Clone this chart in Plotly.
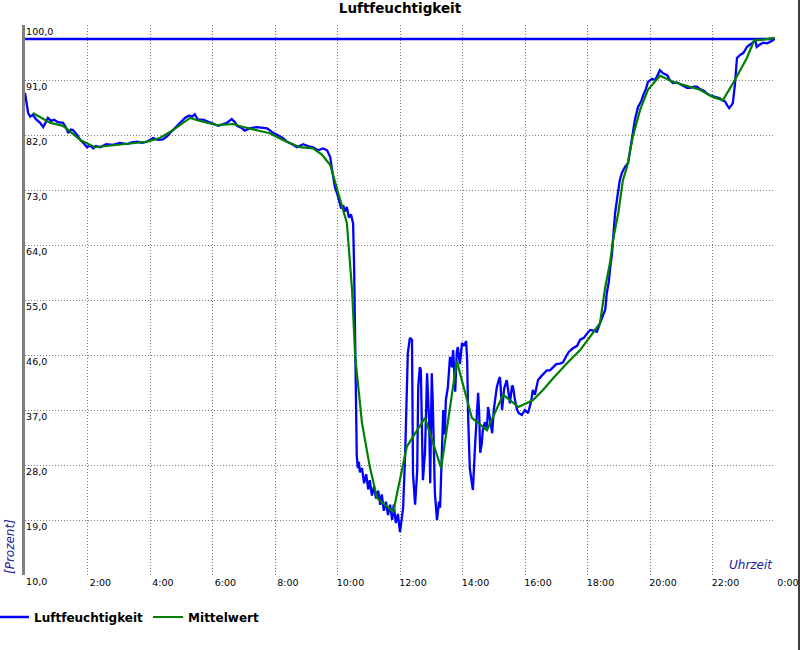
import plotly.graph_objects as go

# ---- data (minutes since midnight, relative humidity %) ----
lf_minutes = [0, 2, 6, 10, 15, 21, 29, 35, 40, 44, 50, 56, 63, 73, 79, 83, 88, 92, 100, 106,
              113, 119, 125, 131, 136, 144, 156, 169, 182, 196, 205, 215, 225, 234, 246, 255,
              265, 273, 278, 286, 292, 300, 307, 315, 321, 326, 332, 342, 351, 361, 371, 378,
              388, 397, 403, 407, 415, 422, 432, 445, 455, 465, 474, 486, 495, 503, 513, 522,
              534, 543, 553, 563, 572, 580, 586, 589, 595, 599, 603, 607, 611, 614, 618, 622,
              626, 630, 632, 634, 636, 637, 639, 641, 643, 647, 651, 655, 659, 662, 666, 670,
              674, 678, 682, 685, 689, 693, 697, 701, 705, 708, 712, 716, 720, 724, 726, 730,
              733, 735, 739, 743, 745, 749, 753, 755, 758, 760, 764, 768, 772, 776, 778, 781,
              783, 787, 791, 795, 797, 801, 803, 806, 808, 812, 816, 820, 822, 826, 829, 831,
              835, 839, 843, 847, 849, 851, 854, 858, 860, 864, 868, 870, 872, 874, 877, 879,
              883, 887, 889, 893, 897, 900, 906, 910, 912, 916, 920, 925, 929, 931, 935, 937,
              941, 945, 948, 954, 960, 966, 972, 975, 979, 985, 991, 996, 1002, 1008, 1014,
              1020, 1027, 1033, 1039, 1044, 1052, 1060, 1066, 1073, 1079, 1085, 1092, 1098,
              1104, 1110, 1114, 1117, 1121, 1123, 1127, 1129, 1133, 1137, 1142, 1146, 1152,
              1158, 1162, 1165, 1171, 1177, 1183, 1187, 1192, 1196, 1204, 1210, 1215, 1219,
              1225, 1233, 1238, 1244, 1252, 1258, 1265, 1271, 1277, 1284, 1290, 1296, 1304,
              1309, 1315, 1323, 1329, 1334, 1338, 1344, 1348, 1352, 1356, 1359, 1363, 1365,
              1367, 1373, 1379, 1382, 1386, 1392, 1396, 1402, 1405, 1411, 1417, 1425, 1430,
              1436, 1439]
lf_values = [88.9, 87.5, 85.6, 85.0, 85.3, 84.6, 84.0, 83.3, 84.2, 84.8, 84.3, 84.5, 84.1, 84.0,
             83.2, 82.3, 82.9, 82.8, 82.0, 81.2, 80.6, 80.0, 80.3, 79.8, 80.2, 80.0, 80.5, 80.4,
             80.7, 80.5, 80.8, 80.9, 80.7, 80.9, 81.5, 81.2, 81.3, 81.8, 82.3, 83.0, 83.6, 84.3,
             84.8, 85.2, 85.0, 85.4, 84.5, 84.5, 84.2, 83.8, 83.5, 83.7, 84.0, 84.6, 84.1, 83.5,
             83.2, 82.7, 83.1, 83.3, 83.2, 83.1, 82.5, 82.0, 81.5, 80.9, 80.5, 80.0, 80.5, 80.2,
             80.0, 79.5, 79.8, 79.5, 78.4, 76.6, 73.5, 72.5, 71.0, 70.0, 70.5, 69.5, 70.2, 68.5,
             69.0, 67.5, 60.0, 45.0, 32.0, 29.5, 27.5, 28.5, 26.8, 27.5, 25.0, 26.5, 24.0, 25.5,
             23.0, 24.5, 22.5, 23.8, 21.5, 23.2, 20.5, 22.0, 19.8, 21.5, 19.0, 21.5, 18.5, 20.0,
             17.0, 19.5, 21.0, 30.0, 38.0, 46.3, 48.8, 48.5, 26.5, 21.5, 27.0, 40.8, 44.0, 43.5,
             25.5, 30.0, 43.0, 35.0, 25.0, 43.0, 38.0, 23.4, 19.0, 22.0, 21.0, 30.0, 37.0, 33.0,
             38.6, 40.8, 45.7, 44.0, 46.8, 40.0, 46.5, 47.3, 44.5, 48.0, 47.5, 48.3, 45.0, 35.4,
             27.5, 25.0, 23.9, 31.0, 36.0, 39.8, 36.5, 30.0, 31.5, 33.7, 35.0, 34.0, 37.5, 35.5,
             33.2, 37.0, 40.8, 42.0, 42.4, 37.0, 40.5, 41.9, 39.0, 38.1, 41.0, 40.8, 38.5, 37.0,
             36.5, 36.2, 37.0, 36.5, 38.5, 40.3, 39.5, 41.9, 42.5, 43.0, 43.5, 43.5, 44.0, 44.5,
             44.6, 44.8, 45.8, 46.5, 47.1, 47.5, 48.5, 48.8, 49.5, 50.1, 50.0, 49.8, 51.2, 52.5,
             53.4, 56.1, 58.0, 59.9, 62.5, 64.8, 69.2, 71.7, 74.6, 75.8, 76.8, 77.4, 79.5, 81.2,
             84.5, 86.6, 87.5, 88.5, 89.5, 90.7, 91.2, 91.0, 92.0, 92.6, 92.1, 91.8, 91.0, 90.5,
             90.6, 90.3, 89.9, 89.7, 89.7, 89.9, 89.9, 89.5, 89.2, 88.8, 88.5, 88.3, 88.1, 88.0,
             87.7, 87.5, 86.9, 86.4, 86.8, 87.2, 90.2, 92.5, 94.6, 95.1, 95.4, 95.8, 96.4, 96.8,
             97.0, 97.5, 96.4, 96.8, 97.1, 97.0, 97.2, 97.5, 97.9]

mw_minutes = [15, 48, 73, 106, 134, 182, 234, 259, 284, 317, 336, 369, 399, 419, 445, 470, 495,
              528, 553, 570, 586, 605, 618, 628, 634, 647, 662, 676, 707, 733, 768, 799, 829,
              858, 887, 918, 947, 975, 995, 1014, 1041, 1066, 1091, 1104, 1114, 1123, 1129,
              1139, 1148, 1156, 1167, 1181, 1196, 1219, 1244, 1271, 1296, 1321, 1340, 1363,
              1386, 1400, 1417, 1439]
mw_values = [85.6, 84.0, 83.5, 81.2, 80.0, 80.4, 80.9, 81.5, 82.8, 84.8, 84.3, 83.6, 83.8, 83.3,
             82.8, 82.3, 81.2, 80.0, 79.8, 78.8, 77.1, 71.4, 67.6, 56.6, 45.7, 34.9, 27.7, 22.6,
             20.3, 31.0, 35.7, 27.5, 45.0, 35.7, 33.7, 39.5, 37.5, 38.6, 40.3, 42.2, 44.7, 46.8,
             49.6, 51.2, 57.1, 61.0, 64.8, 69.2, 74.6, 76.8, 81.7, 86.1, 89.4, 91.7, 90.7, 90.0,
             89.4, 88.2, 87.7, 91.0, 94.6, 97.5, 97.6, 97.9]

limit_value = 97.7

x_tick_hours = [2, 4, 6, 8, 10, 12, 14, 16, 18, 20, 22, 24]
x_tick_text = ["2:00", "4:00", "6:00", "8:00", "10:00", "12:00", "14:00", "16:00",
               "18:00", "20:00", "22:00", "0:00"]
y_tick_vals = [10, 19, 28, 37, 46, 55, 64, 73, 82, 91, 100]
y_tick_text = ["10,0", "19,0", "28,0", "37,0", "46,0", "55,0", "64,0", "73,0",
               "82,0", "91,0", "100,0"]

FONT = "DejaVu Sans"
BLUE = "#0000ff"
GREEN = "#008000"
LABEL_BLUE = "#2020a0"

lf_hours = [m / 60 for m in lf_minutes]
mw_hours = [m / 60 for m in mw_minutes]

fig = go.Figure()
fig.add_trace(go.Scatter(x=[0, 24], y=[limit_value, limit_value], mode="lines",
                         line=dict(color=BLUE, width=2.5), showlegend=False, hoverinfo="skip"))
fig.add_trace(go.Scatter(x=lf_hours, y=lf_values, mode="lines", name="Luftfeuchtigkeit",
                         line=dict(color=BLUE, width=2.3)))
fig.add_trace(go.Scatter(x=mw_hours, y=mw_values, mode="lines", name="Mittelwert",
                         line=dict(color=GREEN, width=2.2)))

grid = dict(showgrid=True, gridcolor="#808080", griddash="1px,2px", gridwidth=1,
            zeroline=False, automargin=False)

fig.update_layout(
    width=800, height=650,
    margin=dict(l=25, r=25, t=25, b=75, autoexpand=False),
    paper_bgcolor="white", plot_bgcolor="white",
    font=dict(family=FONT, color="black"),
    title=dict(text="<b>Luftfeuchtigkeit</b>", x=0.5, xref="container", xanchor="center",
               y=1 - 8 / 650, yref="container", yanchor="middle",
               font=dict(family=FONT, size=13.5, color="black")),
    xaxis=dict(range=[0, 24], tickvals=x_tick_hours, ticktext=x_tick_text, ticks="",
               showline=False, tickfont=dict(size=9.5, color="black"),
               ticklabelshift=13, ticklabelstandoff=0, **grid),
    yaxis=dict(range=[10, 100], tickvals=y_tick_vals, ticktext=y_tick_text, ticks="",
               ticklabelposition="inside", ticklabeloverflow="allow",
               ticklabelshift=7,
               showline=True, linecolor="#808080", linewidth=3,
               tickfont=dict(size=9.5, color="black"), **grid),
    legend=dict(orientation="h", xref="paper", yref="container",
                x=-0.0413, xanchor="left", y=1 - 617 / 650, yanchor="middle",
                font=dict(family=FONT, size=12, color="black", weight="bold"),
                bgcolor="rgba(0,0,0,0)"),
    annotations=[
        dict(text="Uhrzeit", xref="paper", yref="paper", x=1, y=0, xanchor="right",
             yanchor="bottom", showarrow=False, yshift=1,
             font=dict(family=FONT, size=12, color=LABEL_BLUE, style="italic")),
        dict(text="[Prozent]", xref="paper", yref="paper", x=-0.02, y=0.0509,
             xanchor="center", yanchor="middle", showarrow=False, textangle=-90,
             font=dict(family=FONT, size=12, color=LABEL_BLUE, style="italic")),
    ],
    shapes=[dict(type="line", xref="paper", yref="paper", x0=1.032, x1=1.032,
                 y0=-0.2, y1=1.1, line=dict(color="black", width=1.5))],
)

fig.write_html("out.html", config={"displayModeBar": False},
               post_script="document.body.style.margin='0';")
